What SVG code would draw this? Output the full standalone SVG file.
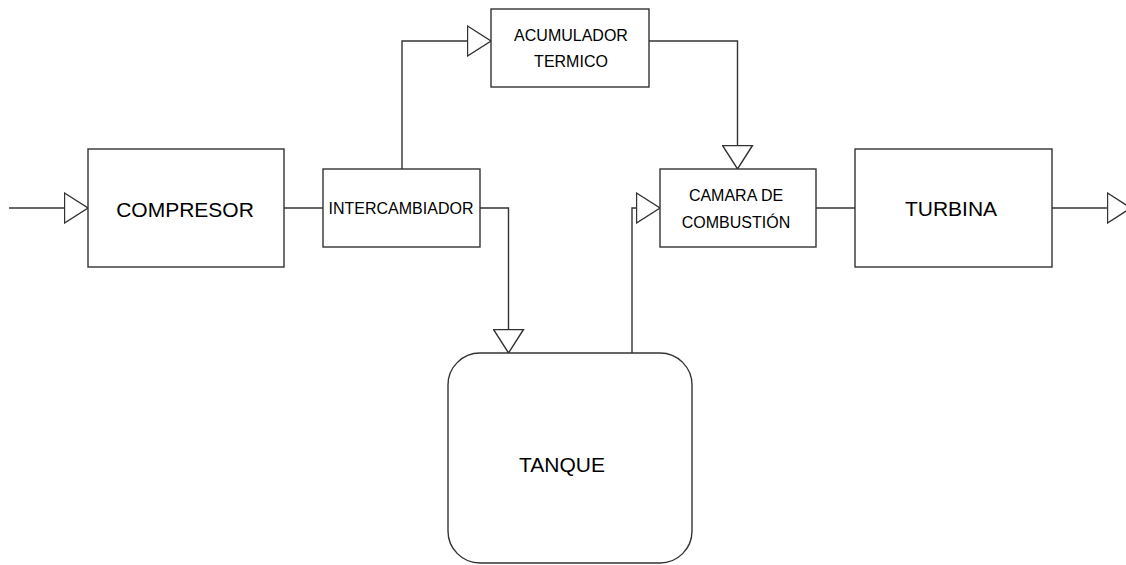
<svg xmlns="http://www.w3.org/2000/svg" width="1126" height="565" viewBox="0 0 1126 565">
<style>
.box{fill:#fff;stroke:#333;stroke-width:1.4}
.ln{fill:none;stroke:#333;stroke-width:1.4}
.t{font-family:"Liberation Sans",Arial,sans-serif;fill:#000;text-anchor:middle;dominant-baseline:central}
.big{font-size:21px}
.sm{font-size:16px}
</style>
<defs>
<marker id="tri" viewBox="0 0 26 32" markerWidth="26" markerHeight="32" refX="24.5" refY="16" orient="auto" markerUnits="userSpaceOnUse">
<path d="M1,1 L24.5,16 L1,31 Z" fill="#fff" stroke="#333" stroke-width="1.4"/>
</marker>
</defs>
<rect width="1126" height="565" fill="#fff"/>
<g id="connectors">
<path class="ln" d="M9,208 L88,208" marker-end="url(#tri)"/>
<path class="ln" d="M284,208 L323,208"/>
<path class="ln" d="M402,169 L402,41 L491,41" marker-end="url(#tri)"/>
<path class="ln" d="M480,208 L508.5,208 L508.5,353" marker-end="url(#tri)"/>
<path class="ln" d="M649,41 L737.5,41 L737.5,169" marker-end="url(#tri)"/>
<path class="ln" d="M632,353 L632,208 L660,208" marker-end="url(#tri)"/>
<path class="ln" d="M816,208 L855,208"/>
<path class="ln" d="M1052,208 L1131,208" marker-end="url(#tri)"/>
</g>
<g id="compresor">
<rect class="box" x="88" y="149" width="196" height="118"/>
<text class="t big" x="185" y="209">COMPRESOR</text>
</g>
<g id="intercambiador">
<rect class="box" x="323" y="169" width="157" height="78"/>
<text class="t sm" x="401" y="208">INTERCAMBIADOR</text>
</g>
<g id="acumulador">
<rect class="box" x="491" y="9" width="158" height="78"/>
<text class="t sm" x="571" y="35">ACUMULADOR</text>
<text class="t sm" x="571" y="61">TERMICO</text>
</g>
<g id="camara">
<rect class="box" x="660" y="169" width="156" height="78"/>
<text class="t sm" x="736" y="195">CAMARA DE</text>
<text class="t sm" x="736" y="222">COMBUSTIÓN</text>
</g>
<g id="turbina">
<rect class="box" x="855" y="149" width="197" height="118"/>
<text class="t big" x="951" y="208">TURBINA</text>
</g>
<g id="tanque">
<rect class="box" x="448" y="353" width="244" height="210" rx="32" ry="32"/>
<text class="t big" x="562" y="464">TANQUE</text>
</g>
</svg>
